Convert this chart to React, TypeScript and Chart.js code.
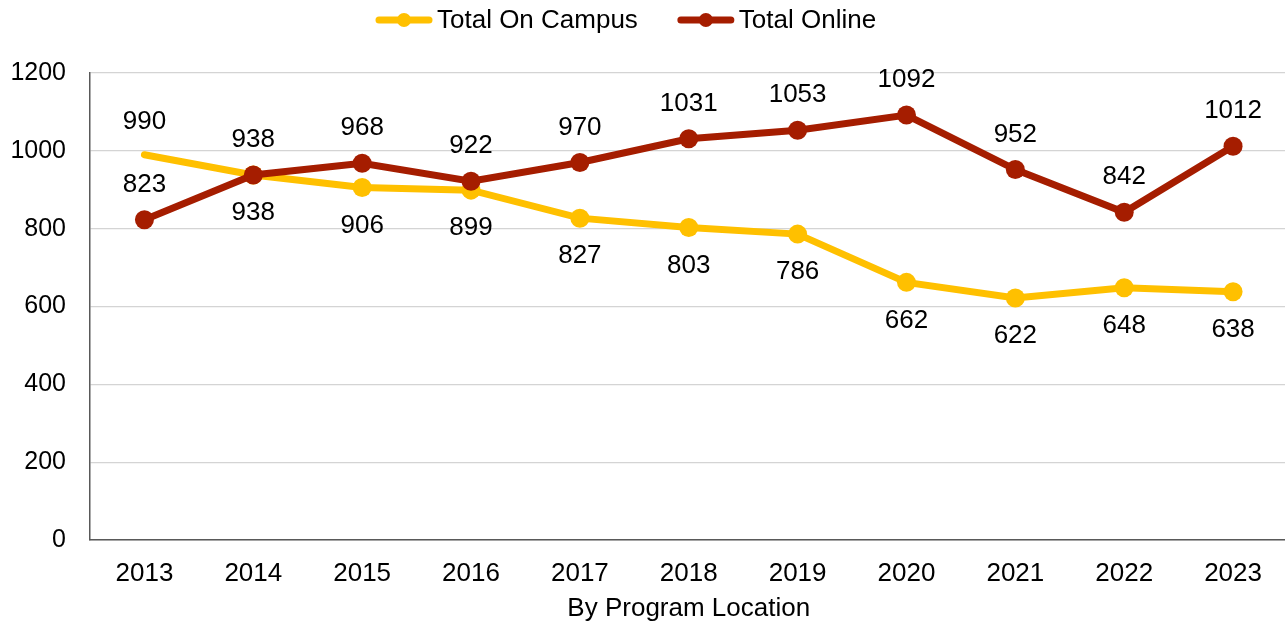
import React, { useEffect, useRef } from "react";
import { Chart, registerables } from "chart.js";

Chart.register(...registerables);

const years = ["2013", "2014", "2015", "2016", "2017", "2018", "2019", "2020", "2021", "2022", "2023"];
const onCampus = [990, 938, 906, 899, 827, 803, 786, 662, 622, 648, 638];
const online = [823, 938, 968, 922, 970, 1031, 1053, 1092, 952, 842, 1012];
const seriesNames = ["Total On Campus", "Total Online"];
const xTitle = "By Program Location";

const CAMPUS = "#FFC000";
const ONLINE = "#A51D00";
const FONT = "'Liberation Sans', Arial, sans-serif";

const labelsPlugin = {
  id: "valueLabels",
  afterDatasetsDraw(chart: any) {
    const ctx = chart.ctx;
    ctx.save();
    ctx.font = `26px ${FONT}`;
    ctx.fillStyle = "#000";
    ctx.textAlign = "center";
    ctx.textBaseline = "middle";
    const m0 = chart.getDatasetMeta(0);
    const m1 = chart.getDatasetMeta(1);
    m0.data.forEach((pt: any, i: number) => {
      const above = onCampus[i] > online[i];
      ctx.fillText(String(onCampus[i]), pt.x, pt.y + (above ? -33 : 38));
    });
    m1.data.forEach((pt: any, i: number) => {
      ctx.fillText(String(online[i]), pt.x, pt.y - 35);
    });
    ctx.restore();
  },
};

const legendPlugin = {
  id: "customLegend",
  afterDraw(chart: any) {
    const ctx = chart.ctx;
    ctx.save();
    ctx.font = `26px ${FONT}`;
    ctx.textBaseline = "middle";
    ctx.textAlign = "left";
    const colors = [CAMPUS, ONLINE];
    const y = 20;
    const lineW = 56;
    const gap = 5;
    const spacing = 40;
    let x = 376;
    seriesNames.forEach((n, i) => {
      ctx.strokeStyle = colors[i];
      ctx.lineWidth = 7;
      ctx.lineCap = "round";
      ctx.beginPath();
      ctx.moveTo(x + 3, y);
      ctx.lineTo(x + lineW - 3, y);
      ctx.stroke();
      ctx.fillStyle = colors[i];
      ctx.beginPath();
      ctx.arc(x + lineW / 2, y, 7, 0, Math.PI * 2);
      ctx.fill();
      ctx.fillStyle = "#000";
      ctx.fillText(n, x + lineW + gap, y + 1);
      x += lineW + gap + ctx.measureText(n).width + spacing;
    });
    ctx.restore();
  },
};

export default function App() {
  const ref = useRef<HTMLCanvasElement>(null);
  useEffect(() => {
    document.body.style.margin = "0";
    document.body.style.overflow = "hidden";
    const chart = new Chart(ref.current!, {
      type: "line",
      data: {
        labels: years,
        datasets: [
          {
            label: seriesNames[0],
            data: onCampus,
            order: 1,
            borderColor: CAMPUS,
            backgroundColor: CAMPUS,
            borderWidth: 7,
            borderCapStyle: "round",
            pointRadius: [0, 9.5, 9.5, 9.5, 9.5, 9.5, 9.5, 9.5, 9.5, 9.5, 9.5],
            pointBackgroundColor: CAMPUS,
            pointBorderWidth: 0,
            tension: 0,
          },
          {
            label: seriesNames[1],
            data: online,
            order: 0,
            borderColor: ONLINE,
            backgroundColor: ONLINE,
            borderWidth: 7,
            borderCapStyle: "round",
            pointRadius: 9.5,
            pointBackgroundColor: ONLINE,
            pointBorderWidth: 0,
            tension: 0,
          },
        ],
      },
      options: {
        animation: false,
        responsive: false,
        layout: { padding: { top: 73, right: 0, left: 10, bottom: 0 } },
        plugins: { legend: { display: false }, tooltip: { enabled: false } },
        scales: {
          x: {
            offset: true,
            afterFit: (s: any) => { s.height = 84; },
            grid: { display: false, drawTicks: false },
            border: { display: true, color: "#595959", width: 1.5 },
            ticks: { color: "#000", font: { size: 26, family: FONT }, padding: 18 },
            title: { display: true, text: xTitle, color: "#000", font: { size: 26, family: FONT }, padding: { top: 4, bottom: 0 } },
          },
          y: {
            min: 0,
            max: 1200,
            afterFit: (s: any) => { s.width = 80; },
            ticks: { stepSize: 200, color: "#000", font: { size: 25, family: FONT }, padding: 24, callback: (v: any) => String(v) },
            grid: { color: "#D4D4D4", lineWidth: 1.2, drawTicks: false },
            border: { display: true, color: "#595959", width: 1.5 },
          },
        },
      },
      plugins: [labelsPlugin, legendPlugin],
    });
    return () => chart.destroy();
  }, []);
  return (
    <div style={{ position: "absolute", left: 0, top: 0, width: 1285, height: 624, overflow: "hidden" }}>
      <canvas ref={ref} width={1297} height={624} style={{ width: 1297, height: 624 }} />
    </div>
  );
}
